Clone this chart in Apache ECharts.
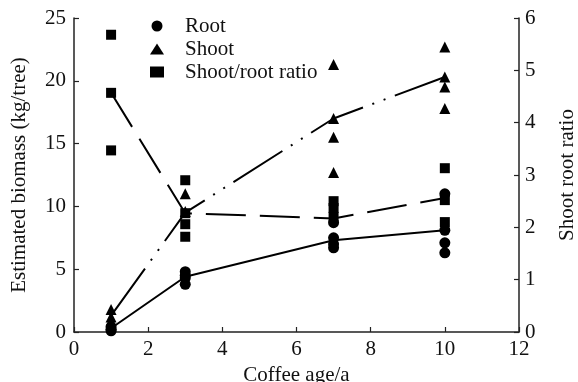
<!DOCTYPE html>
<html>
<head>
<meta charset="utf-8">
<script src="https://cdn.jsdelivr.net/npm/echarts@6/dist/echarts.min.js"></script>
<style>
  html, body { margin: 0; padding: 0; background: #fff; }
  #chart { width: 578px; height: 382px; }
</style>
</head>
<body>
<div id="chart"></div>
<script>
// coffee age (years) at which trees were sampled
var ages = [1, 3, 7, 10]

// individual observations per age
var rootObs = [
  [0.1, 0.2, 0.4],
  [4.8, 4.5, 4.3, 3.8],
  [8.7, 7.5, 7.0, 6.7],
  [11.0, 8.1, 7.1, 6.3]
]
var shootObs = [
  [1.8, 1.2, 0.9, 0.6],
  [11.0, 9.6],
  [21.3, 17.0, 15.5, 12.7],
  [22.7, 20.3, 19.5, 17.8]
]
var ratioObs = [
  [5.68, 4.57, 3.47],
  [2.90, 2.27, 2.06, 1.82],
  [2.50, 2.37, 2.20],
  [3.13, 2.52, 2.10]
]

// fitted / mean lines
var rootMean = [0.3, 4.4, 7.3, 8.1]
var shootMean = [1.3, 9.5, 17.0, 20.3]
var ratioMean = [4.57, 2.27, 2.17, 2.56]

var font = 'Liberation Serif, Times New Roman, serif'

function toPoints(obs) {
  var out = []
  obs.forEach(function (vals, i) {
    vals.forEach(function (v) { out.push([ages[i], v]) })
  })
  return out
}
function toLine(vals) {
  return vals.map(function (v, i) { return [ages[i], v] })
}

var axisLine = { show: true, lineStyle: { color: '#222', width: 1.5 } }
var axisTick = { show: true, inside: true, length: 5, lineStyle: { color: '#222', width: 1.2 } }
var axisLabel = { color: '#111', fontFamily: font, fontSize: 21 }
var nameStyle = { color: '#111', fontFamily: font, fontSize: 21 }

var chart = echarts.init(document.getElementById('chart'))
var option = {
  animation: false,
  color: ['#000'],
  grid: { left: 74, right: 59, top: 18, bottom: 50, containLabel: false, outerBoundsMode: 'none' },
  legend: {
    orient: 'vertical',
    left: 150,
    top: 15,
    padding: 0,
    itemWidth: 14,
    itemHeight: 11,
    itemGap: 1,
    textStyle: { fontFamily: font, fontSize: 21, color: '#111', lineHeight: 22, padding: [0, 0, 0, 16] },
    data: [
      { name: 'Root', icon: 'circle', itemStyle: { color: '#000' } },
      { name: 'Shoot', icon: 'triangle', itemStyle: { color: '#000' } },
      { name: 'Shoot/root ratio', icon: 'rect', itemStyle: { color: '#000' } }
    ]
  },
  xAxis: {
    type: 'value',
    min: 0,
    max: 12,
    interval: 2,
    name: 'Coffee age/a',
    nameLocation: 'middle',
    nameGap: 33,
    nameTextStyle: nameStyle,
    axisLine: axisLine,
    axisTick: axisTick,
    axisLabel: Object.assign({ margin: 7 }, axisLabel),
    splitLine: { show: false }
  },
  yAxis: [
    {
      type: 'value',
      min: 0,
      max: 25,
      interval: 5,
      name: 'Estimated biomass (kg/tree)',
      nameLocation: 'middle',
      nameRotate: 90,
      nameGap: 44,
      nameTextStyle: nameStyle,
      axisLine: axisLine,
      axisTick: axisTick,
      axisLabel: Object.assign({ margin: 8 }, axisLabel),
      splitLine: { show: false }
    },
    {
      type: 'value',
      position: 'right',
      min: 0,
      max: 6,
      interval: 1,
      name: 'Shoot root ratio',
      nameLocation: 'middle',
      nameRotate: 90,
      nameGap: 38,
      nameTextStyle: nameStyle,
      axisLine: axisLine,
      axisTick: axisTick,
      axisLabel: Object.assign({ margin: 6 }, axisLabel),
      splitLine: { show: false }
    }
  ],
  series: [
    {
      name: 'Root',
      type: 'line',
      data: toLine(rootMean),
      symbol: 'none',
      lineStyle: { color: '#000', width: 2 },
      z: 1
    },
    {
      name: 'Shoot',
      type: 'line',
      data: toLine(shootMean),
      symbol: 'none',
      lineStyle: { color: '#000', width: 2, type: [58, 10, 2, 10, 2, 10] },
      z: 1
    },
    {
      name: 'Shoot/root ratio',
      type: 'line',
      yAxisIndex: 1,
      data: toLine(ratioMean),
      symbol: 'none',
      lineStyle: { color: '#000', width: 2, type: [40, 14] },
      z: 1
    },
    {
      name: 'Root',
      type: 'scatter',
      data: toPoints(rootObs),
      symbol: 'circle',
      symbolSize: 11,
      itemStyle: { color: '#000', opacity: 1 },
      z: 2
    },
    {
      name: 'Shoot',
      type: 'scatter',
      data: toPoints(shootObs),
      symbol: 'triangle',
      symbolSize: 11,
      itemStyle: { color: '#000', opacity: 1 },
      z: 2
    },
    {
      name: 'Shoot/root ratio',
      type: 'scatter',
      yAxisIndex: 1,
      data: toPoints(ratioObs),
      symbol: 'rect',
      symbolSize: 10,
      itemStyle: { color: '#000', opacity: 1 },
      z: 2
    }
  ]
}
chart.setOption(option)
</script>
</body>
</html>
